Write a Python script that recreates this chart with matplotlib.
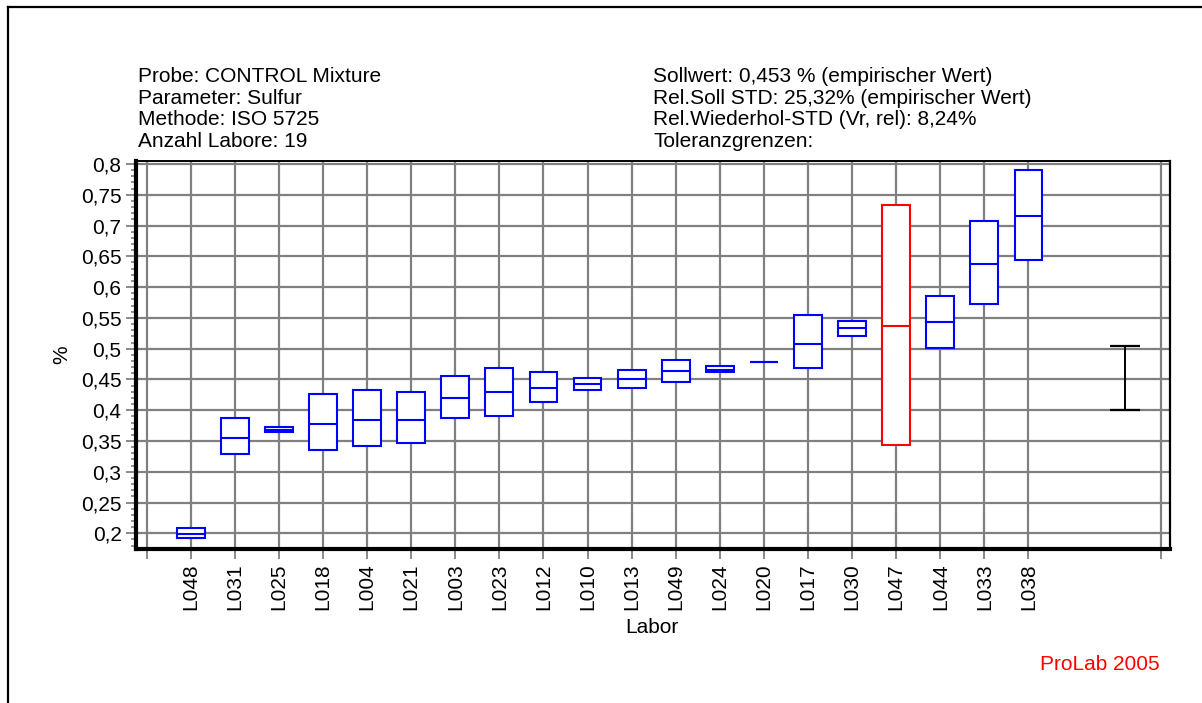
import matplotlib
matplotlib.use("Agg")
import matplotlib.pyplot as plt
from matplotlib.lines import Line2D
import numpy as np

# ---- data ----
labs = ['L048', 'L031', 'L025', 'L018', 'L004', 'L021', 'L003', 'L023', 'L012', 'L010',
        'L013', 'L049', 'L024', 'L020', 'L017', 'L030', 'L047', 'L044', 'L033', 'L038']
lower = [0.193, 0.329, 0.364, 0.335, 0.342, 0.346, 0.387, 0.390, 0.413, 0.433,
         0.436, 0.446, 0.462, 0.479, 0.468, 0.521, 0.343, 0.501, 0.572, 0.644]
median = [0.199, 0.355, 0.368, 0.378, 0.384, 0.384, 0.420, 0.430, 0.436, 0.443,
          0.450, 0.463, 0.466, 0.479, 0.508, 0.534, 0.537, 0.543, 0.638, 0.716]
upper = [0.209, 0.387, 0.372, 0.426, 0.433, 0.430, 0.456, 0.468, 0.462, 0.452,
         0.465, 0.482, 0.472, 0.479, 0.554, 0.545, 0.734, 0.586, 0.708, 0.790]
flagged = ['L047']
tol_low, tol_high = 0.401, 0.505

header_left = ["Probe: CONTROL Mixture", "Parameter: Sulfur",
               "Methode: ISO 5725", "Anzahl Labore: 19"]
header_right = ["Sollwert: 0,453 % (empirischer Wert)",
                "Rel.Soll STD: 25,32% (empirischer Wert)",
                "Rel.Wiederhol-STD (Vr, rel): 8,24%",
                "Toleranzgrenzen:"]
yticks = [0.2, 0.25, 0.3, 0.35, 0.4, 0.45, 0.5, 0.55, 0.6, 0.65, 0.7, 0.75, 0.8]

plt.rcParams['font.family'] = ['Liberation Sans', 'DejaVu Sans']
FS = 15
W, H = 1202, 703
fig = plt.figure(figsize=(W / 100, H / 100), dpi=100)

L, R, T, B = 136.2, 1170, 160.7, 549
ax = fig.add_axes([L / W, 1 - B / H, (R - L) / W, (B - T) / H])

x = np.arange(1, len(labs) + 1)
lo = np.array(lower); hi = np.array(upper); md = np.array(median)
cols = ['#ff0000' if l in flagged else '#0000ff' for l in labs]
bw = 0.63
ax.bar(x, hi - lo, bottom=lo, width=bw, facecolor='white', edgecolor=cols,
       linewidth=1.5, zorder=3)
ax.hlines(md, x - bw / 2, x + bw / 2, colors=cols, linewidth=1.5, zorder=4)

xt = 22.18
ax.vlines([xt], tol_low, tol_high, colors='black', linewidth=1.4, zorder=4)
ax.hlines([tol_low, tol_high], xt - 0.34, xt + 0.34, colors='black', linewidth=1.6, zorder=4)

ax.set_xlim(-0.236, 23.21)
ax.set_ylim(0.1745, 0.8054)

ticks_x = [0] + list(x) + [23]
ax.set_xticks(ticks_x)
ax.set_xticklabels([''] + labs + [''], rotation=90, fontsize=FS)
ax.set_yticks(yticks)
ax.set_yticklabels([f"{v:g}".replace('.', ',') for v in yticks], fontsize=FS)
ax.set_yticks(np.arange(0.18, 0.805, 0.01), minor=True)

ax.grid(True, which='major', color='#808080', linewidth=1.6)
ax.set_axisbelow(True)
ax.tick_params(axis='both', which='major', direction='out', length=7.5, width=1.3,
               color='#808080', pad=3)
ax.tick_params(axis='y', which='minor', direction='out', length=3.8, width=1.2,
               color='#808080')
ax.tick_params(axis='x', which='minor', bottom=False)

for s in ['left', 'bottom']:
    ax.spines[s].set_linewidth(3.0)
    ax.spines[s].set_color('black')
ax.spines['top'].set_linewidth(1.4)
ax.spines['right'].set_linewidth(1.6)

fig.text(62 / W, 1 - 355 / H, '%', rotation=90, ha='center', va='center', fontsize=FS)
fig.text(651.7 / W, 1 - 633 / H, 'Labor', ha='center', va='baseline', fontsize=FS)
fig.text(1160 / W, 1 - 670 / H, 'ProLab 2005', ha='right', va='baseline',
         fontsize=FS, color='#ff0000')

base = [81.5, 103.5, 125.3, 147]
for i, s in enumerate(header_left):
    fig.text(137.7 / W, 1 - base[i] / H, s, ha='left', va='baseline', fontsize=FS)
for i, s in enumerate(header_right):
    fig.text(653.3 / W, 1 - base[i] / H, s, ha='left', va='baseline', fontsize=FS)

# outer frame (top and left)
fig.add_artist(Line2D([8 / W, 1], [1 - 7 / H, 1 - 7 / H], transform=fig.transFigure,
                      color='black', linewidth=1.6))
fig.add_artist(Line2D([8 / W, 8 / W], [1 - 7 / H, 0], transform=fig.transFigure,
                      color='black', linewidth=1.6))

fig.savefig('out.png', dpi=100)
